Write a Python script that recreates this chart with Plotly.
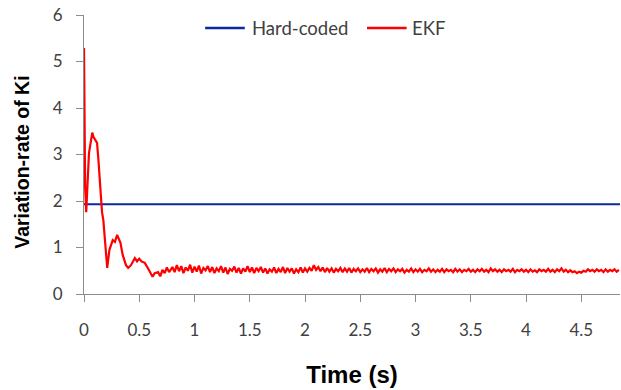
import numpy as np
import plotly.graph_objects as go

# Hard-coded constant level
hard_t = [0.0, 4.85]
hard_y = [1.93, 1.93]

# EKF transient
ekf_t_head = [0.0, 0.01, 0.02, 0.03, 0.045, 0.06, 0.075, 0.085, 0.10, 0.118, 0.13, 0.145,
              0.163, 0.175, 0.20, 0.21, 0.23, 0.26, 0.28, 0.30, 0.33, 0.35, 0.38, 0.40,
              0.425, 0.46, 0.48, 0.50, 0.52, 0.55, 0.58, 0.60, 0.62, 0.64, 0.67, 0.69,
              0.71, 0.73, 0.75, 0.77]
ekf_y_head = [5.29, 2.30, 1.76, 2.20, 3.03, 3.25, 3.47, 3.38, 3.33, 3.25, 2.90, 2.39,
              1.76, 1.59, 0.95, 0.56, 0.95, 1.16, 1.12, 1.27, 1.10, 0.84, 0.62, 0.56,
              0.62, 0.77, 0.70, 0.76, 0.70, 0.67, 0.55, 0.47, 0.37, 0.45, 0.47, 0.38,
              0.52, 0.45, 0.57, 0.47]

# EKF steady-state (sampled every 0.02 s from 0.80 s to 4.84 s)
tail_start, tail_step = 0.80, 0.02
ekf_y_tail = [
    0.58, 0.47, 0.62, 0.49, 0.60, 0.45, 0.57, 0.50, 0.63, 0.46,
    0.59, 0.48, 0.61, 0.44, 0.56, 0.51, 0.60, 0.47, 0.58, 0.45,
    0.55, 0.49, 0.60, 0.46, 0.57, 0.43, 0.54, 0.50, 0.59, 0.46,
    0.56, 0.44, 0.55, 0.48, 0.60, 0.47, 0.57, 0.45, 0.56, 0.49,
    0.58, 0.46, 0.55, 0.44, 0.53, 0.48, 0.57, 0.45, 0.54, 0.47,
    0.58, 0.45, 0.56, 0.48, 0.55, 0.44, 0.53, 0.47, 0.57, 0.46,
    0.55, 0.48, 0.56, 0.50, 0.62, 0.52, 0.58, 0.49, 0.57, 0.47,
    0.56, 0.48, 0.55, 0.46, 0.54, 0.49, 0.56, 0.47, 0.55, 0.48,
    0.56, 0.46, 0.54, 0.49, 0.55, 0.47, 0.53, 0.48, 0.56, 0.47,
    0.54, 0.49, 0.55, 0.46, 0.53, 0.48, 0.56, 0.47, 0.54, 0.49,
    0.55, 0.47, 0.53, 0.49, 0.54, 0.46, 0.52, 0.48, 0.55, 0.47,
    0.53, 0.48, 0.54, 0.47, 0.52, 0.49, 0.55, 0.48, 0.53, 0.47,
    0.52, 0.48, 0.54, 0.47, 0.53, 0.49, 0.52, 0.47, 0.54, 0.48,
    0.53, 0.47, 0.52, 0.49, 0.54, 0.48, 0.52, 0.47, 0.53, 0.49,
    0.54, 0.48, 0.52, 0.47, 0.55, 0.49, 0.53, 0.48, 0.52, 0.47,
    0.53, 0.49, 0.52, 0.48, 0.54, 0.47, 0.52, 0.49, 0.53, 0.48,
    0.52, 0.47, 0.53, 0.48, 0.51, 0.47, 0.53, 0.49, 0.52, 0.48,
    0.54, 0.48, 0.52, 0.47, 0.53, 0.49, 0.55, 0.48, 0.52, 0.47,
    0.51, 0.47, 0.49, 0.45, 0.48, 0.46, 0.50, 0.48, 0.53, 0.49,
    0.52, 0.48, 0.53, 0.49, 0.52, 0.47, 0.53, 0.48, 0.52, 0.49,
    0.53, 0.48, 0.52,
]
ekf_t_tail = list(np.round(tail_start + tail_step * np.arange(len(ekf_y_tail)), 3))

ekf_t = ekf_t_head + ekf_t_tail
ekf_y = ekf_y_head + ekf_y_tail

x_tickvals = [0, 0.5, 1, 1.5, 2, 2.5, 3, 3.5, 4, 4.5]
x_ticktext = ["0", "0.5", "1", "1.5", "2", "2.5", "3", "3.5", "4", "4.5"]
y_tickvals = [0, 1, 2, 3, 4, 5, 6]

series_names = ["Hard-coded", "EKF"]
series_colors = ["#0b2a9e", "#ff0000"]

fig = go.Figure()
fig.add_trace(go.Scatter(x=hard_t, y=hard_y, mode="lines", name=series_names[0],
                         line=dict(color=series_colors[0], width=2)))
fig.add_trace(go.Scatter(x=ekf_t, y=ekf_y, mode="lines", name=series_names[1],
                         line=dict(color=series_colors[1], width=2.2)))

axis_common = dict(showgrid=False, zeroline=False, showline=True,
                   linecolor="#8c8c8c", linewidth=1, ticks="outside",
                   tickcolor="#8c8c8c", ticklen=7, tickwidth=1,
                   tickfont=dict(family="Lato, Open Sans, sans-serif", size=17, color="#404040"))

# Manual legend (line sample + label), positioned in paper coordinates
legend_font = dict(family="Lato, Open Sans, sans-serif", size=18.5, color="#404040")
legend_y = 0.953
legend_items = [(0.226, 0.300, 0.309), (0.528, 0.602, 0.609)]
shapes = []
annotations = []
for (x0, x1, xt), name, col in zip(legend_items, series_names, series_colors):
    shapes.append(dict(type="line", xref="paper", yref="paper", x0=x0, x1=x1,
                       y0=legend_y, y1=legend_y, line=dict(color=col, width=2.5)))
    annotations.append(dict(text=name, xref="paper", yref="paper", x=xt, y=legend_y,
                            xanchor="left", yanchor="middle", showarrow=False,
                            font=legend_font))

# Y-axis title as rotated annotation
annotations.append(dict(text="<b>Variation-rate of Ki</b>", xref="paper", yref="paper",
                        x=-0.117, y=0.5, yshift=-8, textangle=-90, showarrow=False,
                        xanchor="center", yanchor="middle",
                        font=dict(family="Liberation Sans, Arial, sans-serif", size=19.5,
                                  color="black")))

fig.update_layout(
    width=621, height=390,
    margin=dict(l=84, r=1, t=15, b=96),
    paper_bgcolor="white", plot_bgcolor="white",
    showlegend=False,
    shapes=shapes,
    annotations=annotations,
    xaxis=dict(range=[0, 4.85], tickvals=x_tickvals, ticktext=x_ticktext,
               ticklabelstandoff=14,
               title=dict(text="<b>Time (s)</b>", standoff=26,
                          font=dict(family="Liberation Sans, Arial, sans-serif", size=24, color="black")),
               **axis_common),
    yaxis=dict(range=[0, 6], tickvals=y_tickvals, ticklabelstandoff=10,
               **axis_common),
)

fig.write_html("out.html")
